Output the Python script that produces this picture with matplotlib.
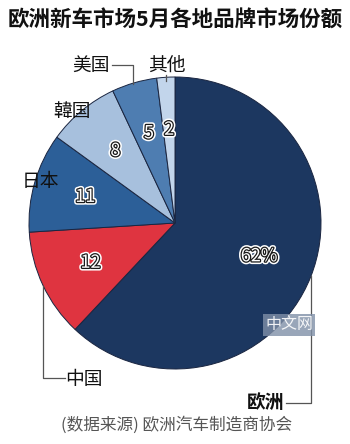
import matplotlib.pyplot as plt
import matplotlib.patheffects as pe
import numpy as np

plt.rcParams['font.family'] = ['Noto Sans CJK SC', 'DejaVu Sans']

# data
regions = ["欧洲", "中国", "日本", "韓国", "美国", "其他"]
shares = [62, 12, 11, 8, 5, 2]
share_labels = ["62%", "12", "11", "8", "5", "2"]
colors = ["#1c3760", "#df3440", "#2c5f98", "#a7c0dd", "#4e7db1", "#c2d5eb"]

fig = plt.figure(figsize=(3.5, 4.44), dpi=100)
fig.patch.set_facecolor("white")

# pie axes: centre (175,223) px, radius 146 px
ax = fig.add_axes([29/350, 75/444, 292/350, 292/444])
wedges, _ = ax.pie(shares, colors=colors, startangle=90, counterclock=False,
                   radius=1, wedgeprops=dict(edgecolor="#1a2540", linewidth=0.7))
ax.set_xlim(-1, 1)
ax.set_ylim(-1, 1)
ax.axis("off")

# numbers inside the slices
fx = [pe.Stroke(linewidth=4, foreground="white"),
      pe.Stroke(linewidth=1.8, foreground="#1a1a1a"),
      pe.Normal()]
for w, lab in zip(wedges, share_labels):
    ang = np.deg2rad((w.theta1 + w.theta2) / 2)
    r = 0.62 if lab == "62%" else 0.64
    ax.text(r*np.cos(ang), r*np.sin(ang), lab, ha="center", va="center",
            fontsize=13, color="white", path_effects=fx)


def px(x, y):
    # pixel position -> data coords of the pie axes
    return (x - 175) / 146, (223 - y) / 146


def line(pts):
    xs, ys = zip(*[px(*p) for p in pts])
    ax.plot(xs, ys, color="#555555", lw=0.9, clip_on=False)


# outer labels and leader lines
lab_pos = {"美国": (91, 65), "其他": (167, 65), "韓国": (72, 111),
           "日本": (40, 182), "中国": (84, 379), "欧洲": (266, 402)}
for name, (x, y) in lab_pos.items():
    ax.text(*px(x, y), name, ha="center", va="center", fontsize=13.5,
            color="#111111", fontweight="bold" if name == "欧洲" else "medium",
            clip_on=False)

line([(112, 65), (133, 65), (133, 84)])
line([(166, 75), (166, 81)])
line([(65, 378), (43, 378), (43, 286)])
line([(286, 403), (311, 403), (311, 276)])

# watermark
ax.text(*px(289, 325), "中文网", ha="center", va="center", fontsize=11.5,
        color="white", alpha=0.9,
        bbox=dict(boxstyle="square,pad=0.15", fc="#8090a8", ec="none", alpha=0.8))

fig.text(0.5, 1 - 20/444, "欧洲新车市场5月各地品牌市场份额", ha="center", va="center",
         fontsize=15.5, fontweight="bold", color="#111111")
fig.text(177/350, 1 - 425/444, "(数据来源) 欧洲汽车制造商协会", ha="center", va="center",
         fontsize=12, color="#555555")

fig.savefig("out.png", dpi=100)
